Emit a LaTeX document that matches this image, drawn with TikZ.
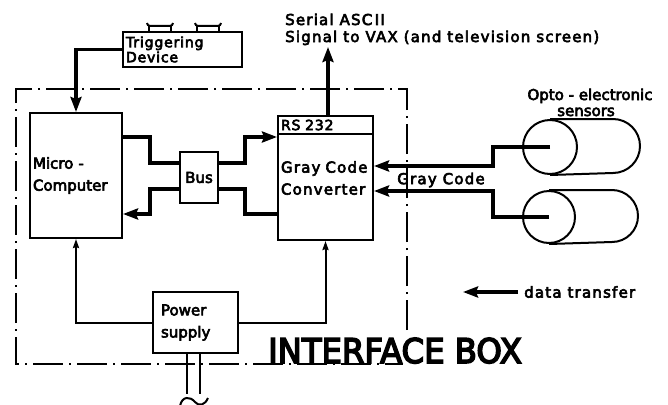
\documentclass[tikz,border=0pt]{standalone}
\usepackage{fontspec}
\setmainfont{DejaVu Sans}
\newfontfamily\lettW{DejaVu Sans}[LetterSpace=8]
\newfontfamily\lettWs{DejaVu Sans}[LetterSpace=6]
\newcommand\fntA{\fontsize{15}{22}\selectfont}
\newcommand\fntW{\lettW\fontsize{15}{22}\selectfont}
\newcommand\fntWs{\lettWs\fontsize{14}{15}\selectfont}
\usetikzlibrary{arrows.meta}
\begin{document}
\begin{tikzpicture}[x=1pt,y=-1pt,
  every node/.style={execute at begin node={\special{pdf:literal direct 2 Tr 0.6 w}},
                     execute at end node={\special{pdf:literal direct 0 Tr}}},
  box/.style={draw, line width=2pt, inner sep=3pt},
  lab/.style={font=\fntA},
  widelab/.style={font=\fntW},
  smalllab/.style={font=\fntWs},
  heavy/.style={line width=3.8pt},
  heavyarrow/.style={line width=3.8pt, -{Stealth[length=15pt,width=11pt,inset=2pt]}},
  thinline/.style={line width=2pt},
  thinarrow/.style={line width=2pt, -{Stealth[length=9pt,width=6pt,inset=1pt]}},
  dashdot/.style={line width=2pt, dash pattern=on 30pt off 6pt on 2pt off 6pt}
]
\useasboundingbox (0,0) rectangle (668,404);

% interface box outline
\draw[dashdot] (407,330) |- (16,89) |- (403,364);
\node[font=\fontsize{34}{34}\selectfont, anchor=base west, inner sep=0pt, xscale=0.95,
      execute at begin node={\special{pdf:literal direct 2 Tr 1.6 w}}] (ibox) at (268,363) {INTERFACE BOX};

% triggering device
\node[box, text width=113pt, minimum height=35pt, align=left, smalllab] (trig) at (182.5,49.5) {Triggering\\Device};
\draw[thinline] (147,23) to[out=-80,in=180] (150,26) -- (170,26) to[out=0,in=-100] (173,23);
\draw[thinline] (149,26) -- (149,32);
\draw[thinline] (171,26) -- (171,32);
\draw[thinline] (195,23) to[out=-80,in=180] (198,26) -- (218,26) to[out=0,in=-100] (221,23);
\draw[thinline] (197,26) -- (197,32);
\draw[thinline] (219,26) -- (219,32);

% main boxes
\node[box, text width=86pt, minimum height=125pt, align=left, lab] (micro) at (76,175.5) {Micro -\\Computer};
\node[box, minimum width=38pt, minimum height=51pt, lab] (busbox) at (199,177.5) {Bus};
\node[box, text width=89pt, minimum height=124pt, align=left, widelab] (conv) at (325.5,178) {Gray Code\\Converter};
\node[box, text width=89pt, minimum height=18pt, inner sep=3pt, align=left, anchor=north, smalllab] (rs) at (conv.north) {RS 232};
\node[box, text width=69pt, inner xsep=8pt, minimum height=61pt, align=left, lab] (power) at (195.5,322.5) {Power\\supply};

% sensors
\node[draw, circle, line width=2pt, minimum size=54pt, inner sep=0pt] (s1) at (550,147) {};
\node[draw, circle, line width=2pt, minimum size=52pt, inner sep=0pt] (s2) at (549,217) {};
\draw[thinline] (s1.north) -- ++(63,0) arc[start angle=90, end angle=-90, radius=27pt] -- (s1.south);
\draw[thinline] (s2.north) -- ++(63,0) arc[start angle=90, end angle=-90, radius=26pt] -- (s2.south);

% texts
\node[widelab, anchor=base west, inner sep=0pt] (serial) at (285,25) {Serial ASC\,II};
\node[widelab, anchor=base west, inner sep=0pt] (signal) at (285,42) {Signal to VAX (and television screen)};
\node[lab, anchor=base, inner sep=0pt] (opto1) at (590,100) {Opto - electronic};
\node[lab, anchor=base, inner sep=0pt] (opto2) at (586,116) {sensors};
\node[widelab] (gclab) at (441,180) {Gray Code};
\node[widelab, anchor=west, inner sep=0pt] (dt) at (524,292) {data transfer};
\coordinate (sigtop) at (328,47);

% connectors
\draw[heavyarrow] (trig.west) -| (micro.north);
\draw[heavyarrow] (rs.north -| sigtop) -- (sigtop);

\draw[heavy] (micro.east |- 0,137) -| (150,163) -- (busbox.west |- 0,163);
\draw[heavyarrow] (busbox.east |- 0,163) -| (245,137) -- (conv.west |- 0,137);
\draw[heavyarrow] (busbox.west |- 0,189) -| (150,214) -- (micro.east |- 0,214);
\draw[heavy] (busbox.east |- 0,189) -| (245,214) -- (conv.west |- 0,214);

\draw[heavyarrow] (s1.center) -| (493,166) -- (conv.east |- 0,166);
\draw[heavyarrow] (s2.center) -| (493,191) -- (conv.east |- 0,191);

\draw[thinarrow] (power.west) -| (micro.south);
\draw[thinarrow] (power.east) -| (conv.south);

\draw[thinline] ([xshift=-8.5pt]power.south) -- ++(0,40);
\draw[thinline] ([xshift=4.5pt]power.south) -- ++(0,40);
\draw[thinline] (180,406) .. controls (182,396) and (190,396) .. (195,402) .. controls (199,407) and (205,405) .. (208,398);

\draw[heavyarrow] (dt.west) ++(-6,0) -- ++(-55,0);
\end{tikzpicture}
\end{document}
